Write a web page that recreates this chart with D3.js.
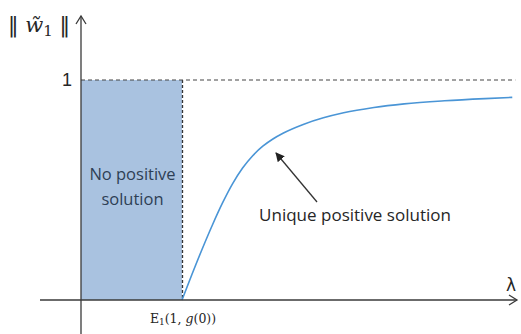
<!DOCTYPE html>
<html>
<head>
<meta charset="utf-8">
<script src="https://cdn.jsdelivr.net/npm/d3@7"></script>
<style>
  html, body { margin: 0; padding: 0; background: #fff; }
  svg { display: block; }
</style>
</head>
<body>
<svg id="chart" width="521" height="334"></svg>
<script>
// Norm of the positive solution as a function of lambda
const lambdaValues = [1.0, 1.1, 1.2, 1.3, 1.4, 1.5, 1.6, 1.7, 1.8, 1.9, 2.0, 2.2, 2.4, 2.6, 2.9, 3.2, 3.6, 4.0, 4.27];
const normValues   = [0.0, 0.118, 0.232, 0.340, 0.440, 0.528, 0.600, 0.656, 0.699, 0.732, 0.758, 0.798, 0.828, 0.851, 0.875, 0.8915, 0.9055, 0.9155, 0.921];

// Threshold eigenvalue and the bounding level
const thresholdLambda = [1];
const levelTicks = [1];
const yTickLabels = ["1"];

const svg = d3.select("#chart");

const x = d3.scaleLinear().domain([0, 1]).range([81, 182]);
const y = d3.scaleLinear().domain([0, 1]).range([300, 80]);

const axisColor = "#3a3a3a";
const textColor = "#262626";
const lmax = 4.3;

// Region with no positive solution
svg.append("rect")
  .attr("x", x(0))
  .attr("y", y(levelTicks[0]))
  .attr("width", x(thresholdLambda[0]) - x(0))
  .attr("height", y(0) - y(levelTicks[0]))
  .attr("fill", "#a9c2e0");

// Dashed guides
svg.append("line")
  .attr("x1", x(thresholdLambda[0]) + 0.5).attr("x2", x(thresholdLambda[0]) + 0.5)
  .attr("y1", y(levelTicks[0])).attr("y2", y(0))
  .attr("stroke", "#333").attr("stroke-width", 1.3).attr("stroke-dasharray", "3,2");
svg.append("line")
  .attr("x1", x(0)).attr("x2", x(lmax))
  .attr("y1", y(levelTicks[0])).attr("y2", y(levelTicks[0]))
  .attr("stroke", "#444").attr("stroke-width", 1.2).attr("stroke-dasharray", "4,3");

// Solution curve
const line = d3.line()
  .x((d, i) => x(lambdaValues[i]))
  .y((d) => y(d))
  .curve(d3.curveMonotoneX);
svg.append("path")
  .attr("d", line(normValues))
  .attr("fill", "none")
  .attr("stroke", "#4a95d6")
  .attr("stroke-width", 1.6);

// Axes
svg.append("line")
  .attr("x1", 40).attr("x2", 517)
  .attr("y1", y(0)).attr("y2", y(0))
  .attr("stroke", axisColor).attr("stroke-width", 1.3);
svg.append("line")
  .attr("x1", x(0)).attr("x2", x(0))
  .attr("y1", 16).attr("y2", 334)
  .attr("stroke", axisColor).attr("stroke-width", 1.3);

// Axis arrowheads
svg.append("path")
  .attr("d", `M${x(0) - 5},${24} L${x(0)},${16} L${x(0) + 5},${24}`)
  .attr("fill", "none").attr("stroke", axisColor).attr("stroke-width", 1.3);
svg.append("path")
  .attr("d", `M${509},${y(0) - 5} L${517},${y(0)} L${509},${y(0) + 5}`)
  .attr("fill", "none").attr("stroke", axisColor).attr("stroke-width", 1.3);

// Tick label for level 1
svg.selectAll(".ytick")
  .data(levelTicks)
  .enter().append("text")
  .attr("class", "ytick")
  .attr("x", 72).attr("y", (d) => y(d) + 6)
  .attr("text-anchor", "end")
  .attr("font-family", "Liberation Sans, Arial, sans-serif")
  .attr("font-size", 18)
  .attr("fill", textColor)
  .text((d, i) => yTickLabels[i]);

// Y axis title ‖ w̃₁ ‖
const ytitle = svg.append("text")
  .attr("x", 8).attr("y", 32)
  .attr("font-family", "DejaVu Serif, serif")
  .attr("font-size", 21)
  .attr("fill", textColor);
ytitle.append("tspan").attr("font-family", "DejaVu Sans, sans-serif").text("\u2016 ");
ytitle.append("tspan").attr("font-style", "italic").text("w\u0303");
ytitle.append("tspan").attr("font-size", 15).attr("dy", 4).text("1");
ytitle.append("tspan").attr("dy", -4).attr("font-family", "DejaVu Sans, sans-serif").text(" \u2016");

// X axis title
svg.append("text")
  .attr("x", 511).attr("y", 291)
  .attr("text-anchor", "middle")
  .attr("font-family", "DejaVu Sans, sans-serif")
  .attr("font-size", 17)
  .attr("fill", textColor)
  .text("\u03bb");

// Threshold label E₁(1, g(0))
const elab = svg.append("text")
  .attr("x", x(thresholdLambda[0]) + 1).attr("y", 323)
  .attr("text-anchor", "middle")
  .attr("font-family", "DejaVu Serif, serif")
  .attr("font-size", 12.5)
  .attr("fill", textColor);
elab.append("tspan").text("E");
elab.append("tspan").attr("font-size", 9).attr("dy", 2).text("1");
elab.append("tspan").attr("dy", -2).text("(1, ");
elab.append("tspan").attr("font-style", "italic").text("g");
elab.append("tspan").text("(0))");

// Region label
const cx = (x(0) + x(thresholdLambda[0])) / 2 + 1;
const region = svg.append("text")
  .attr("text-anchor", "middle")
  .attr("font-family", "Open Sans, sans-serif")
  .attr("font-size", 16.5)
  .attr("fill", "#2e3f55");
region.append("tspan").attr("x", cx).attr("y", 180).text("No positive");
region.append("tspan").attr("x", cx).attr("y", 205).text("solution");

// Annotation
svg.append("defs").append("marker")
  .attr("id", "head")
  .attr("viewBox", "0 0 10 10")
  .attr("refX", 9).attr("refY", 5)
  .attr("markerWidth", 7).attr("markerHeight", 7)
  .attr("orient", "auto")
  .append("path").attr("d", "M0,0 L10,5 L0,10 z").attr("fill", "#222");
svg.append("line")
  .attr("x1", 317).attr("y1", 202)
  .attr("x2", 276).attr("y2", 153)
  .attr("stroke", "#333").attr("stroke-width", 1.3)
  .attr("marker-end", "url(#head)");
svg.append("text")
  .attr("x", 355).attr("y", 221)
  .attr("text-anchor", "middle")
  .attr("font-family", "Open Sans, sans-serif")
  .attr("font-size", 17)
  .attr("fill", textColor)
  .text("Unique positive solution");
</script>
</body>
</html>
